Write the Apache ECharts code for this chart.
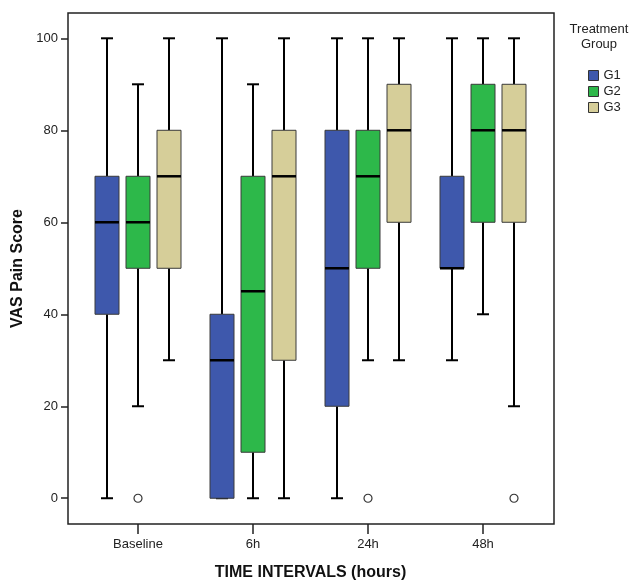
<!DOCTYPE html>
<html>
<head>
<meta charset="utf-8">
<script src="https://cdn.jsdelivr.net/npm/echarts@6/dist/echarts.min.js"></script>
<style>
  html, body { margin: 0; padding: 0; background: #fff; }
  #chart { width: 640px; height: 583px; }
</style>
</head>
<body>
<div id="chart"></div>
<script>
const categories = ["Baseline", "6h", "24h", "48h"];
const groups = ["G1", "G2", "G3"];
// [min, q1, median, q3, max] for each time interval
const g1Box = [[0, 40, 60, 70, 100], [0, 0, 30, 40, 100], [0, 20, 50, 80, 100], [30, 50, 50, 70, 100]];
const g2Box = [[20, 50, 60, 70, 90], [0, 10, 45, 70, 90], [30, 50, 70, 80, 100], [40, 60, 80, 90, 100]];
const g3Box = [[30, 50, 70, 80, 100], [0, 30, 70, 80, 100], [30, 60, 80, 90, 100], [20, 60, 80, 90, 100]];
// [category index, value]
const g1Outliers = [];
const g2Outliers = [[0, 0], [2, 0]];
const g3Outliers = [[3, 0]];
const yTicks = [0, 20, 40, 60, 80, 100];

const colors = ["#3e58ac", "#2db84a", "#d6ce99"];
const offsets = [-31, 0, 31];
const font = "'Liberation Sans', Arial, sans-serif";

function boxRenderer(offset) {
  return function (params, api) {
    const c = api.value(0);
    const lo = api.coord([c, api.value(1)]);
    const q1 = api.coord([c, api.value(2)]);
    const md = api.coord([c, api.value(3)]);
    const q3 = api.coord([c, api.value(4)]);
    const hi = api.coord([c, api.value(5)]);
    const x = lo[0] + offset;
    const half = 12;
    const cap = 6;
    const line = { stroke: "#000", lineWidth: 2 };
    return {
      type: "group",
      children: [
        { type: "line", shape: { x1: x, y1: hi[1], x2: x, y2: q3[1] }, style: line },
        { type: "line", shape: { x1: x, y1: q1[1], x2: x, y2: lo[1] }, style: line },
        { type: "line", shape: { x1: x - cap, y1: hi[1], x2: x + cap, y2: hi[1] }, style: line },
        { type: "line", shape: { x1: x - cap, y1: lo[1], x2: x + cap, y2: lo[1] }, style: line },
        {
          type: "rect",
          shape: { x: x - half, y: q3[1], width: half * 2, height: q1[1] - q3[1] },
          style: { fill: api.visual("color"), stroke: "#3a3a3a", lineWidth: 1 },
        },
        {
          type: "line",
          shape: { x1: x - half, y1: md[1], x2: x + half, y2: md[1] },
          style: { stroke: "#000", lineWidth: 2.5 },
        },
      ],
    };
  };
}

const boxes = [g1Box, g2Box, g3Box];
const outliers = [g1Outliers, g2Outliers, g3Outliers];
const series = [];
groups.forEach((g, i) => {
  series.push({
    name: g,
    type: "custom",
    xAxisIndex: 1,
    yAxisIndex: 1,
    color: colors[i],
    renderItem: boxRenderer(offsets[i]),
    encode: { x: 0, y: [1, 2, 3, 4, 5] },
    data: boxes[i].map((b, k) => [k].concat(b)),
    z: 3,
  });
  series.push({
    name: g,
    type: "scatter",
    xAxisIndex: 1,
    yAxisIndex: 1,
    symbol: "circle",
    symbolSize: 8,
    symbolOffset: [offsets[i], 0],
    itemStyle: { color: "#fff", borderColor: "#000", borderWidth: 1.2 },
    data: outliers[i],
    z: 4,
  });
});

const chart = echarts.init(document.getElementById("chart"));
chart.setOption({
  animation: false,
  textStyle: { fontFamily: font },
  graphic: [
    {
      type: "text",
      x: 599,
      y: 22,
      style: {
        text: "Treatment\nGroup",
        textAlign: "center",
        font: "13px " + font,
        lineHeight: 15,
        fill: "#222",
      },
    },
  ],
  legend: {
    orient: "vertical",
    left: 583,
    top: 64,
    icon: "rect",
    itemWidth: 10,
    itemHeight: 10,
    itemGap: 3,
    selectedMode: false,
    textStyle: { fontSize: 13, color: "#222", fontFamily: font },
    data: groups.map((g, i) => ({
      name: g,
      itemStyle: { color: colors[i], borderColor: "#333", borderWidth: 1 },
    })),
  },
  grid: [
    {
      left: 68, top: 13, width: 486, height: 511,
      show: true, borderColor: "#222", borderWidth: 1.5,
      outerBoundsMode: "none",
    },
    {
      left: 80.5, top: 13, width: 460, height: 511,
      outerBoundsMode: "none",
    },
  ],
  xAxis: [
    { type: "value", gridIndex: 0, show: false, min: 0, max: 1 },
    {
      type: "category",
      gridIndex: 1,
      position: "bottom",
      data: categories,
      axisLine: { show: false, onZero: false },
      axisTick: { show: true, alignWithLabel: true, length: 10, lineStyle: { color: "#222", width: 1.5 } },
      axisLabel: { fontSize: 13, color: "#222", margin: 14 },
      name: "TIME INTERVALS (hours)",
      nameLocation: "middle",
      nameGap: 41,
      nameTextStyle: { fontSize: 16, fontWeight: "bold", color: "#111" },
    },
  ],
  yAxis: [
    {
      type: "value",
      gridIndex: 0,
      min: -5.6,
      max: 105.5,
      axisLine: { show: false },
      splitLine: { show: false },
      axisTick: { show: true, customValues: yTicks, length: 7, lineStyle: { color: "#222", width: 1.5 } },
      axisLabel: { customValues: yTicks, fontSize: 13, color: "#222", margin: 10 },
      name: "VAS Pain Score",
      nameLocation: "middle",
      nameGap: 34,
      nameTextStyle: { fontSize: 16, fontWeight: "bold", color: "#111" },
    },
    { type: "value", gridIndex: 1, show: false, min: -5.6, max: 105.5 },
  ],
  series: series,
});
</script>
</body>
</html>
